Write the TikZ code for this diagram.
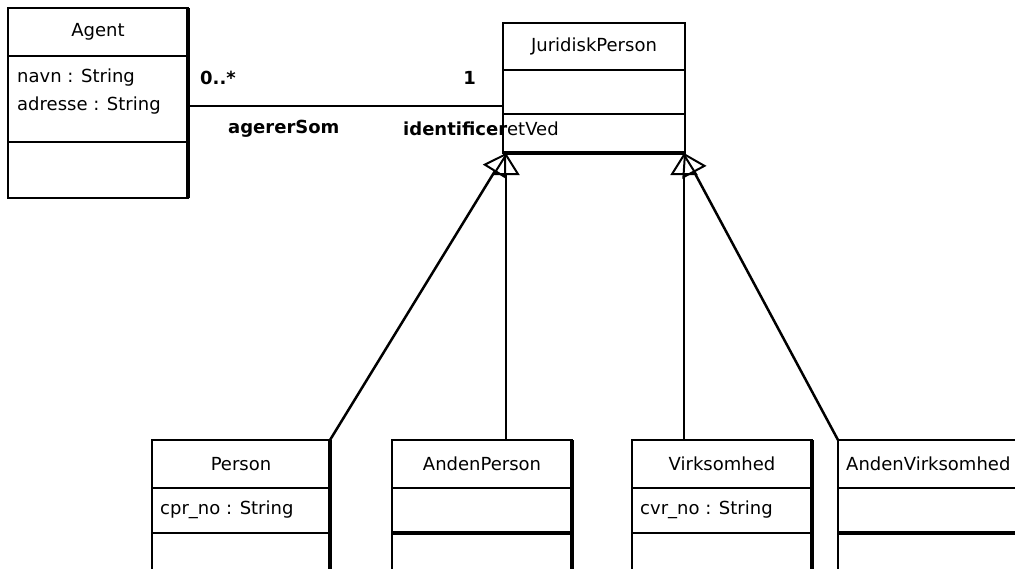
\documentclass[tikz,border=0pt]{standalone}
\usepackage{fontspec}
\setmainfont{DejaVu Sans}
\usetikzlibrary{arrows.meta}
\usetikzlibrary{calc}

\tikzset{
  part/.style={draw=black, line width=2pt, anchor=north west, inner sep=0pt,
    outer sep=0pt, minimum width=#1},
  attr/.style={anchor=west, inner sep=0pt},
  role/.style={inner sep=0pt, font=\fontsize{18}{21}\selectfont\bfseries},
  shadow/.style={line width=4.5pt},
  gen/.style={line width=2.5pt, -{Triangle[open, length=22pt, width=27pt, line width=2pt]}},
}

\begin{document}
\begin{tikzpicture}[x=1pt, y=-1pt, font=\fontsize{18}{21}\selectfont]
    \clip (0,0) rectangle (1015,568);
    \fill[white] (0,0) rectangle (1015,568);

    % Agent
    \node[part=180pt, minimum height=48pt] (agent) at (8,8) {Agent};
    \node[part=180pt, minimum height=86pt] (agentAttr) at (agent.south west) {};
    \node[part=180pt, minimum height=56pt] (agentOps) at (agentAttr.south west) {};
    \node[attr] (navn) at (17,78) {navn : String};
    \node[attr] (adresse) at (17,106) {adresse : String};
    \draw[shadow] (agent.north east) -- (agentOps.south east);

    % JuridiskPerson
    \node[part=182pt, minimum height=47pt] (jp) at (503,23) {JuridiskPerson};
    \node[part=182pt, minimum height=44pt] (jpAttr) at (jp.south west) {};
    \node[part=182pt, minimum height=39pt] (jpOps) at (jpAttr.south west) {};
    \draw[shadow] (jpOps.south west) -- (jpOps.south east);

    % association
    \coordinate (assocL) at (agentAttr.east |- 0,106);
    \coordinate (assocR) at (jpAttr.west |- 0,106);
    \path [line width=2.5pt] (assocL) edge (assocR);
    \node[role, anchor=west] (multL) at (200,78) {0..*};
    \node[role, anchor=east] (multR) at (476,78) {1};
    \node[role, anchor=west] (roleL) at (228,129) {agererSom};
    \node[anchor=west, inner sep=0pt] (roleR) at (403,129) {\textbf{identificer}etVed};

    % subclasses
    \node[part=178pt, minimum height=48pt] (person) at (152,440) {Person};
    \node[part=178pt, minimum height=45pt] (personAttr) at (person.south west) {};
    \node[part=178pt, minimum height=60pt] (personOps) at (personAttr.south west) {};
    \node[attr] (cpr) at (160,510) {cpr\_no : String};
    \draw[shadow] (person.north east) -- (personOps.south east);

    \node[part=180pt, minimum height=48pt] (aperson) at (392,440) {AndenPerson};
    \node[part=180pt, minimum height=45pt] (apersonAttr) at (aperson.south west) {};
    \node[part=180pt, minimum height=60pt] (apersonOps) at (apersonAttr.south west) {};
    \draw[shadow] (aperson.north east) -- (apersonOps.south east);
    \draw[shadow] (apersonOps.north west) -- (apersonOps.north east);

    \node[part=180pt, minimum height=48pt] (virk) at (632,440) {Virksomhed};
    \node[part=180pt, minimum height=45pt] (virkAttr) at (virk.south west) {};
    \node[part=180pt, minimum height=60pt] (virkOps) at (virkAttr.south west) {};
    \node[attr] (cvr) at (640,510) {cvr\_no : String};
    \draw[shadow] (virk.north east) -- (virkOps.south east);

    \node[part=200pt, minimum height=48pt] (avirk) at (838,440) {};
    \node[part=200pt, minimum height=45pt] (avirkAttr) at (avirk.south west) {};
    \node[part=200pt, minimum height=60pt] (avirkOps) at (avirkAttr.south west) {};
    \node[attr] (avirkName) at (846,464) {AndenVirksomhed};
    \draw[shadow] (avirkOps.north west) -- (avirkOps.north east);

    % generalisations
    \coordinate (genL) at (506,153);
    \coordinate (genR) at (684,153);
    \path [gen] (person.north east) edge (genL);
    \path [gen] (aperson.north -| genL) edge (genL);
    \path [gen] (virk.north -| genR) edge (genR);
    \path [gen] (avirk.north west) edge (genR);
\end{tikzpicture}
\end{document}
